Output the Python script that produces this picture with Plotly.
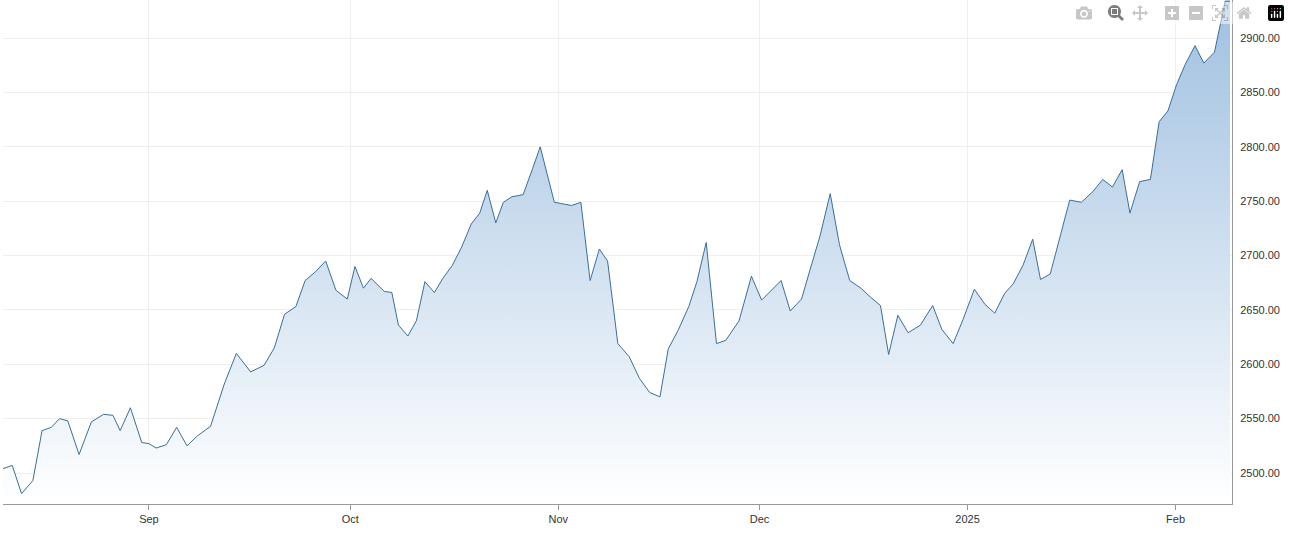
import pandas as pd
import plotly.graph_objects as go

# time in days since 2024-08-01
days = [9.25,10.63,12.01,13.70,15.07,16.45,17.68,18.90,20.59,22.42,24.26,25.64,26.71,28.24,29.93,31.0,
        32.07,33.60,35.13,36.67,38.20,40.19,42.18,44.02,46.16,48.15,49.68,51.21,52.90,54.28,55.81,57.34,58.87,60.56,
        61.70,62.97,64.10,66.07,67.20,68.18,69.59,70.86,72.13,73.54,74.80,76.21,77.62,79.03,80.30,81.42,82.69,83.82,
        85.08,86.77,88.18,89.31,91.42,
        93.99,95.37,96.75,98.13,99.35,100.88,102.57,104.10,105.63,107.16,108.39,109.92,111.45,112.67,114.05,115.58,
        116.96,118.95,120.79,
        122.31,123.83,125.21,126.58,128.26,129.48,131.01,132.53,133.91,135.44,137.11,138.49,140.02,141.24,142.61,
        144.14,145.97,147.80,149.18,150.85,152.38,
        154.01,155.61,157.06,158.51,159.81,161.26,162.71,163.87,165.32,166.77,168.22,169.96,171.70,173.14,174.59,
        176.04,177.20,178.65,180.25,181.55,182.86,
        184.14,185.45,186.90,188.20,189.80,191.39,192.12]
prices = [2504,2507,2481,2493,2539,2542,2550,2548,2517,2547,2554,2553,2539,2560,2528,2527,
          2523,2526,2542,2525,2534,2543,2581,2610,2593,2599,2615,2646,2653,2677,2685,2695,2668,2660,
          2690,2670,2679,2667,2666,2636,2626,2640,2676,2666,2679,2691,2708,2729,2739,2760,2730,2749,
          2754,2756,2780,2800,2749,
          2746,2749,2677,2706,2695,2619,2607,2587,2574,2570,2614,2632,2653,2676,2712,2619,
          2622,2640,2681,
          2659,2668,2677,2649,2660,2686,2718,2757,2710,2677,2670,2662,2654,2609,2645,
          2629,2636,2654,2632,2619,2642,
          2669,2655,2647,2665,2674,2691,2715,2678,2683,2718,2751,2749,2759,2770,2763,
          2779,2739,2768,2770,2823,2833,2857,
          2876,2893,2877,2887,2934,2934]

tick_dates = ["2024-09-01", "2024-10-01", "2024-11-01", "2024-12-01", "2025-01-01", "2025-02-01"]
tick_labels = ["Sep", "Oct", "Nov", "Dec", "2025", "Feb"]
y_ticks = [2500, 2550, 2600, 2650, 2700, 2750, 2800, 2850, 2900]
y_min, y_max = 2471.5, 2935

base = pd.Timestamp("2024-08-01")
x = [base + pd.to_timedelta(d, unit="D") for d in days]

fig = go.Figure()
fig.add_trace(go.Scatter(
    x=x, y=prices, mode="lines",
    line=dict(color="#3d6e98", width=1),
    fill="tozeroy",
    fillgradient=dict(type="vertical", start=y_min, stop=y_max,
                      colorscale=[[0, "rgba(255,255,255,1)"], [1, "rgba(160,192,224,1)"]]),
    hoverinfo="skip",
))
fig.add_shape(type="line", xref="x", yref="paper", x0="2025-01-01", x1="2025-01-01",
              y0=0, y1=1, line=dict(color="#cccccc", width=1), layer="below")
fig.update_layout(
    width=1290, height=541,
    margin=dict(l=3, r=58, t=0, b=37),
    paper_bgcolor="white", plot_bgcolor="white",
    showlegend=False,
    font=dict(family="Arial, Liberation Sans, sans-serif", size=11, color="#333333"),
    xaxis=dict(
        range=[base + pd.to_timedelta(9.25, unit="D"), base + pd.to_timedelta(192.41, unit="D")],
        tickvals=tick_dates, ticktext=tick_labels,
        showgrid=True, gridcolor="#efefef", gridwidth=1,
        showline=True, linecolor="#999999", linewidth=1,
        ticks="outside", ticklen=5, tickcolor="#999999",
        zeroline=False,
    ),
    yaxis=dict(
        range=[y_min, y_max], side="right",
        tickvals=y_ticks, tickformat=".2f",
        showgrid=True, gridcolor="#efefef", gridwidth=1,
        showline=True, linecolor="#999999", linewidth=1,
        ticks="", ticklabelstandoff=5,
        zeroline=False,
    ),
)
fig.write_html("out.html",
               post_script="document.body.style.margin='0';document.body.style.overflow='hidden';")
